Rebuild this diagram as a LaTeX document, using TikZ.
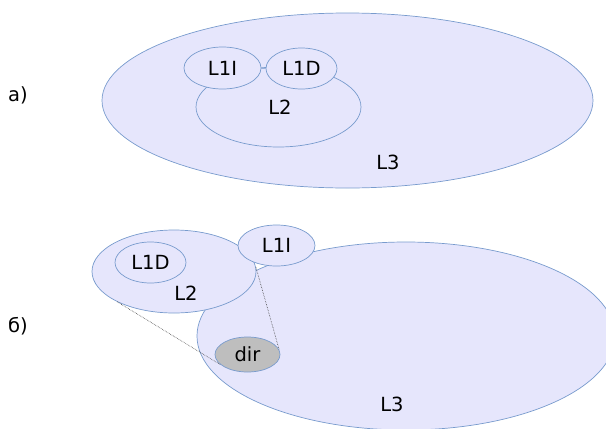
\documentclass[tikz,border=0pt]{standalone}
\usepackage{fontspec}
\setmainfont{DejaVu Sans}
\usetikzlibrary{shapes.geometric}
\definecolor{setfill}{RGB}{230,230,252}
\definecolor{setline}{RGB}{120,155,205}
\definecolor{dirfill}{RGB}{190,190,190}
\definecolor{linkgray}{RGB}{70,70,70}
\begin{document}
\begin{tikzpicture}[x=1pt,y=-1pt,
  setell/.style={ellipse,draw=setline,fill=setfill,line width=0.7pt,inner sep=0pt,
    font=\fontsize{19.5}{22}\selectfont},
  direll/.style={setell,fill=dirfill},
  lbl/.style={font=\fontsize{19.5}{22}\selectfont,inner sep=0pt},
  link/.style={draw=linkgray,line width=0.6pt,densely dotted}]
\useasboundingbox (0,0) rectangle (606,429);
% a)
\node[lbl] (la) at (18,95) {a)};
\node[setell,minimum width=491pt,minimum height=175pt] (l3a) at (347.5,100.5) {};
\node[setell,minimum width=165pt,minimum height=80pt] (l2a) at (278.5,107) {};
\node[setell,minimum width=77pt,minimum height=42pt] (l1ia) at (222.5,68) {L1I};
\node[setell,minimum width=71pt,minimum height=41pt] (l1da) at (301.5,68.5) {L1D};
\draw[setline,line width=0.7pt] (l1ia) -- (l1da);
\node[lbl] (l2alab) at (280,107) {L2};
\node[lbl] (l3alab) at (388,162) {L3};
% b)
\node[lbl] (lb) at (18,326) {б)};
\node[setell,minimum width=418pt,minimum height=188pt] (l3b) at (406,336) {};
\node[setell,minimum width=164pt,minimum height=83pt] (l2b) at (174,271.5) {};
\node[setell,minimum width=71pt,minimum height=41pt] (l1db) at (150.5,262.5) {L1D};
\node[setell,minimum width=77pt,minimum height=41pt] (l1ib) at (276.5,245.5) {L1I};
\node[direll,minimum width=65pt,minimum height=35pt] (dir) at (247.5,354.5) {dir};
\node[lbl] (l2blab) at (186,293) {L2};
\node[lbl] (l3blab) at (392,404) {L3};
\draw[link] (l2b.208) -- (dir.201);
\draw[link] (l2b.3) -- (dir.8);
\end{tikzpicture}
\end{document}
